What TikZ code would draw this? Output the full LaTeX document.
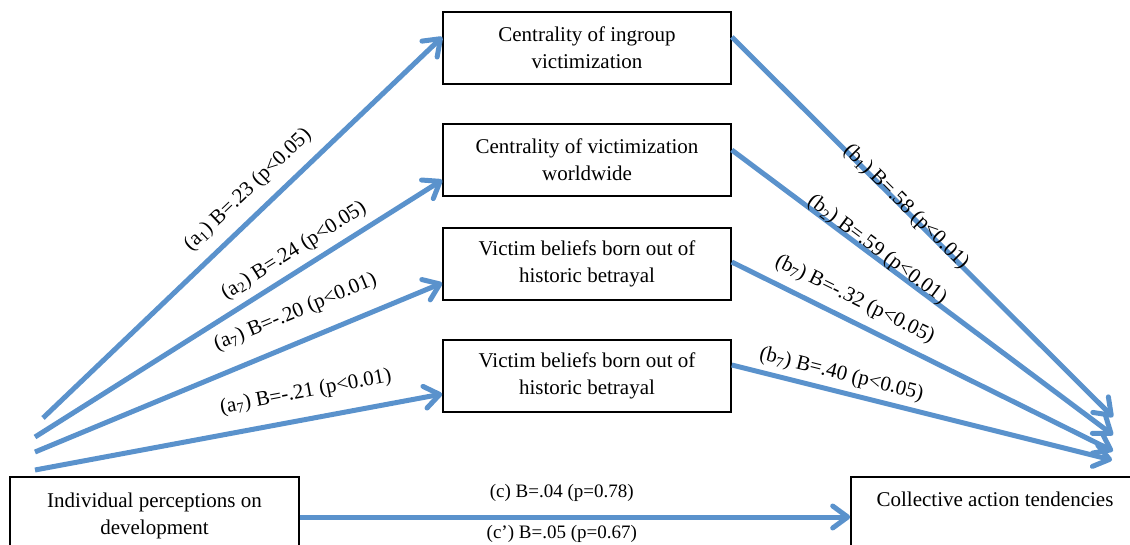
\documentclass[tikz,border=0pt]{standalone}
\usepackage{fontspec}
\setmainfont{Liberation Serif}
\usetikzlibrary{arrows.meta}
\definecolor{arrowblue}{RGB}{90,146,204}
\begin{document}
\begin{tikzpicture}[x=1pt,y=-1pt,
  box/.style={draw=black, line width=1.6pt, minimum width=288pt, minimum height=72pt, inner sep=0pt, align=center, font=\fontsize{21}{27}\selectfont},
  conn/.style={draw=arrowblue, line width=5pt, -{Straight Barb[length=15pt,width=22pt,round]}},
  lbl/.style={font=\fontsize{21}{23}\selectfont, inner sep=0pt, text height=15pt, text depth=5pt, sloped},
  clbl/.style={font=\fontsize{19}{21}\selectfont, inner sep=0pt, text height=13.5pt, text depth=4.5pt},
  txt/.style={font=\fontsize{21}{27}\selectfont, align=center, inner sep=0pt}]
\useasboundingbox (0,0) rectangle (1130,545);
\clip (0,0) rectangle (1130,545);
% mediator boxes
\node[box] (M1) at (587,48) {Centrality of ingroup\\victimization};
\node[box] (M2) at (587,160) {Centrality of victimization\\worldwide};
\node[box] (M3) at (587,264) {Victim beliefs born out of\\historic betrayal};
\node[box] (M4) at (587,376) {Victim beliefs born out of\\historic betrayal};
% predictor and outcome boxes
\node[box, minimum width=289pt, minimum height=83pt] (L) at (154.5,518.5) {};
\node[txt] (Ltext) at (154.5,516) {Individual perceptions on\\development};
\node[box, minimum width=290pt, minimum height=83pt] (R) at (996,518.5) {};
\node[txt] (Rtext) at (995,499) {Collective action tendencies};
% free ends
\coordinate (s1) at (43,418);
\coordinate (s2) at (35,437);
\coordinate (s3) at (35,452);
\coordinate (s4) at (35,470);
\coordinate (e1) at (1113,417);
\coordinate (e2) at (1113,435);
\coordinate (e3) at (1113,451);
\coordinate (e4) at (1112,460);
% a paths
\draw[conn] (s1) -- ([yshift=11pt]M1.west)
  node[lbl, pos=.554, above=10.8pt] {(a\textsubscript{1}) B=.23 (p<0.05)};
\draw[conn] (s2) -- ([yshift=-20pt]M2.west)
  node[lbl, pos=.661, above=6.5pt] {(a\textsubscript{2}) B=.24 (p<0.05)};
\draw[conn] (s3) -- ([yshift=-19pt]M3.west)
  node[lbl, pos=.667, above=16.3pt] {(a\textsubscript{7}) B=-.20 (p<0.01)};
\draw[conn] (s4) -- ([yshift=-18pt]M4.west)
  node[lbl, pos=.677, above=14pt] {(a\textsubscript{7}) B=-.21 (p<0.01)};
% b paths
\draw[conn] ([yshift=11pt]M1.east) -- (e1)
  node[lbl, pos=.452, above=-10pt] {(b\textsubscript{1}) B=.58 (p<0.01)};
\draw[conn] ([yshift=10pt]M2.east) -- (e2)
  node[lbl, pos=.370, above=-5.6pt] {(b\textsubscript{2}) B=.59 (p<0.01)};
\draw[conn] ([yshift=2pt]M3.east) -- (e3)
  node[lbl, pos=.298, above=8.3pt] {(b\textsubscript{7}) B=-.32 (p<0.05)};
\draw[conn] ([yshift=11pt]M4.east) -- (e4)
  node[lbl, pos=.277, above=4.7pt] {(b\textsubscript{7}) B=.40 (p<0.05)};
% c path
\draw[conn] ([yshift=1.5pt]L.east) -- ([yshift=1.5pt]R.west)
  node[clbl, pos=.476, above=13pt] {(c) B=.04 (p=0.78)}
  node[clbl, pos=.476, below=5pt] {(c’) B=.05 (p=0.67)};
\end{tikzpicture}
\end{document}
